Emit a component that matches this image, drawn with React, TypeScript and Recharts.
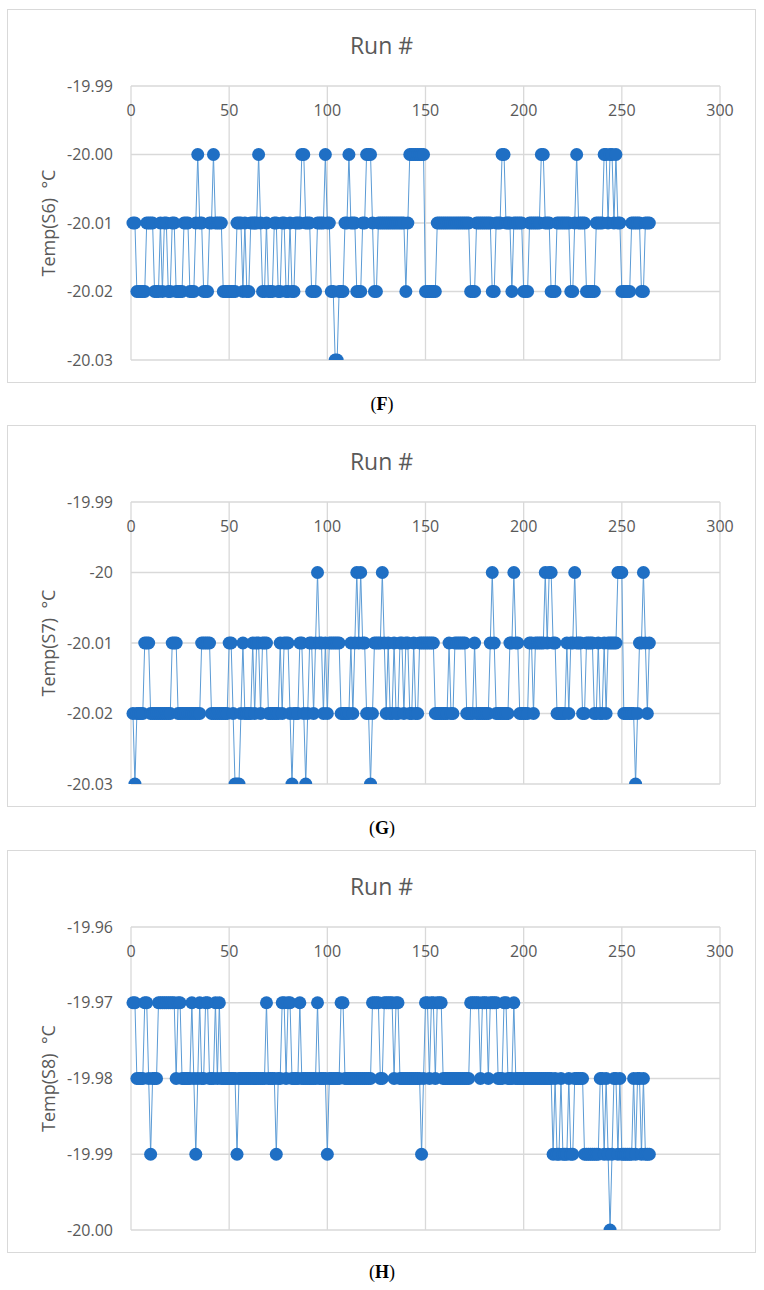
import React from "react";
import { CartesianGrid, Line, LineChart, XAxis, YAxis } from "recharts";

const PAGE_W = 764;
const PAGE_H = 1290;
const BOX_LEFT = 7;
const CHART_W = 749;
const PLOT_TOP = 77;
const X_AXIS_H = 30;
const INK = "#595959";
const GRID = "#d9d9d9";
const FONT = "'Open Sans', sans-serif";

const runTicks = [0, 50, 100, 150, 200, 250, 300];
const s6Ticks = [-20.03, -20.02, -20.01, -20.0, -19.99];
const s7Ticks = [-20.03, -20.02, -20.01, -20.0, -19.99];
const s8Ticks = [-20.0, -19.99, -19.98, -19.97, -19.96];

// runs 1..264
const s6Temps = [
  -20.01, -20.01, -20.02, -20.02, -20.02, -20.02, -20.02, -20.01, -20.01, -20.01, -20.01, -20.02,
  -20.02, -20.02, -20.01, -20.02, -20.01, -20.01, -20.02, -20.02, -20.01, -20.01, -20.02, -20.02,
  -20.02, -20.02, -20.01, -20.01, -20.01, -20.02, -20.02, -20.02, -20.01, -20.0, -20.01, -20.01,
  -20.02, -20.02, -20.02, -20.01, -20.01, -20.0, -20.01, -20.01, -20.01, -20.01, -20.02, -20.02,
  -20.02, -20.02, -20.02, -20.02, -20.02, -20.01, -20.01, -20.01, -20.02, -20.01, -20.02, -20.02,
  -20.01, -20.01, -20.01, -20.01, -20.0, -20.01, -20.02, -20.02, -20.01, -20.02, -20.02, -20.02,
  -20.01, -20.01, -20.02, -20.02, -20.01, -20.01, -20.02, -20.02, -20.01, -20.02, -20.02, -20.01,
  -20.01, -20.01, -20.0, -20.0, -20.01, -20.01, -20.01, -20.02, -20.02, -20.02, -20.01, -20.01,
  -20.01, -20.01, -20.0, -20.01, -20.01, -20.02, -20.02, -20.03, -20.03, -20.02, -20.02, -20.02,
  -20.01, -20.01, -20.0, -20.01, -20.01, -20.01, -20.02, -20.02, -20.02, -20.01, -20.01, -20.0,
  -20.0, -20.0, -20.01, -20.02, -20.02, -20.01, -20.01, -20.01, -20.01, -20.01, -20.01, -20.01,
  -20.01, -20.01, -20.01, -20.01, -20.01, -20.01, -20.01, -20.02, -20.01, -20.0, -20.0, -20.0,
  -20.0, -20.0, -20.0, -20.0, -20.0, -20.02, -20.02, -20.02, -20.02, -20.02, -20.02, -20.01,
  -20.01, -20.01, -20.01, -20.01, -20.01, -20.01, -20.01, -20.01, -20.01, -20.01, -20.01, -20.01,
  -20.01, -20.01, -20.01, -20.01, -20.02, -20.02, -20.02, -20.01, -20.01, -20.01, -20.01, -20.01,
  -20.01, -20.01, -20.01, -20.02, -20.02, -20.01, -20.01, -20.01, -20.0, -20.0, -20.01, -20.01,
  -20.01, -20.02, -20.01, -20.01, -20.01, -20.01, -20.01, -20.02, -20.02, -20.02, -20.01, -20.01,
  -20.01, -20.01, -20.01, -20.01, -20.0, -20.0, -20.01, -20.01, -20.01, -20.02, -20.02, -20.02,
  -20.01, -20.01, -20.01, -20.01, -20.01, -20.01, -20.01, -20.02, -20.02, -20.01, -20.0, -20.01,
  -20.01, -20.01, -20.01, -20.02, -20.02, -20.02, -20.02, -20.02, -20.01, -20.01, -20.01, -20.01,
  -20.0, -20.0, -20.01, -20.0, -20.0, -20.01, -20.0, -20.01, -20.01, -20.02, -20.02, -20.02,
  -20.02, -20.02, -20.01, -20.01, -20.01, -20.01, -20.01, -20.02, -20.02, -20.01, -20.01, -20.01,
];

const s7Temps = [
  -20.02, -20.03, -20.02, -20.02, -20.02, -20.02, -20.01, -20.01, -20.01, -20.02, -20.02, -20.02,
  -20.02, -20.02, -20.02, -20.02, -20.02, -20.02, -20.02, -20.02, -20.01, -20.01, -20.01, -20.02,
  -20.02, -20.02, -20.02, -20.02, -20.02, -20.02, -20.02, -20.02, -20.02, -20.02, -20.02, -20.01,
  -20.01, -20.01, -20.01, -20.01, -20.02, -20.02, -20.02, -20.02, -20.02, -20.02, -20.02, -20.02,
  -20.02, -20.01, -20.01, -20.02, -20.03, -20.03, -20.03, -20.02, -20.01, -20.02, -20.02, -20.02,
  -20.02, -20.01, -20.02, -20.01, -20.01, -20.02, -20.01, -20.01, -20.01, -20.02, -20.02, -20.02,
  -20.02, -20.02, -20.02, -20.01, -20.02, -20.01, -20.01, -20.01, -20.02, -20.03, -20.02, -20.02,
  -20.02, -20.01, -20.01, -20.02, -20.03, -20.02, -20.01, -20.01, -20.02, -20.01, -20.0, -20.01,
  -20.01, -20.02, -20.01, -20.02, -20.01, -20.01, -20.01, -20.01, -20.01, -20.01, -20.02, -20.02,
  -20.02, -20.02, -20.02, -20.01, -20.02, -20.01, -20.0, -20.01, -20.0, -20.01, -20.01, -20.02,
  -20.02, -20.03, -20.02, -20.01, -20.01, -20.01, -20.01, -20.0, -20.01, -20.02, -20.01, -20.02,
  -20.02, -20.01, -20.02, -20.02, -20.01, -20.01, -20.02, -20.01, -20.01, -20.02, -20.02, -20.01,
  -20.02, -20.02, -20.01, -20.01, -20.01, -20.01, -20.01, -20.01, -20.01, -20.01, -20.02, -20.02,
  -20.02, -20.02, -20.02, -20.02, -20.02, -20.01, -20.02, -20.02, -20.01, -20.01, -20.01, -20.01,
  -20.01, -20.01, -20.02, -20.02, -20.02, -20.02, -20.01, -20.02, -20.02, -20.02, -20.02, -20.02,
  -20.02, -20.02, -20.01, -20.0, -20.01, -20.02, -20.02, -20.02, -20.02, -20.02, -20.02, -20.02,
  -20.01, -20.01, -20.0, -20.01, -20.01, -20.02, -20.02, -20.02, -20.02, -20.02, -20.01, -20.01,
  -20.02, -20.01, -20.01, -20.01, -20.01, -20.01, -20.0, -20.01, -20.0, -20.0, -20.01, -20.01,
  -20.02, -20.02, -20.02, -20.02, -20.02, -20.01, -20.02, -20.01, -20.01, -20.0, -20.01, -20.01,
  -20.01, -20.02, -20.02, -20.01, -20.01, -20.01, -20.01, -20.02, -20.02, -20.01, -20.02, -20.02,
  -20.01, -20.02, -20.01, -20.01, -20.01, -20.01, -20.01, -20.0, -20.0, -20.0, -20.02, -20.02,
  -20.02, -20.02, -20.02, -20.02, -20.03, -20.02, -20.01, -20.01, -20.0, -20.01, -20.02, -20.01,
];

const s8Temps = [
  -19.97, -19.97, -19.98, -19.98, -19.98, -19.98, -19.97, -19.97, -19.98, -19.99, -19.98, -19.98,
  -19.98, -19.97, -19.97, -19.97, -19.97, -19.97, -19.97, -19.97, -19.97, -19.97, -19.98, -19.97,
  -19.97, -19.98, -19.98, -19.98, -19.98, -19.98, -19.97, -19.98, -19.99, -19.98, -19.97, -19.98,
  -19.98, -19.97, -19.97, -19.98, -19.98, -19.98, -19.97, -19.98, -19.97, -19.98, -19.98, -19.98,
  -19.98, -19.98, -19.98, -19.98, -19.98, -19.99, -19.98, -19.98, -19.98, -19.98, -19.98, -19.98,
  -19.98, -19.98, -19.98, -19.98, -19.98, -19.98, -19.98, -19.98, -19.97, -19.98, -19.98, -19.98,
  -19.98, -19.99, -19.98, -19.98, -19.97, -19.97, -19.98, -19.97, -19.97, -19.98, -19.98, -19.98,
  -19.98, -19.97, -19.98, -19.98, -19.98, -19.98, -19.98, -19.98, -19.98, -19.98, -19.97, -19.98,
  -19.98, -19.98, -19.98, -19.99, -19.98, -19.98, -19.98, -19.98, -19.98, -19.98, -19.97, -19.97,
  -19.98, -19.98, -19.98, -19.98, -19.98, -19.98, -19.98, -19.98, -19.98, -19.98, -19.98, -19.98,
  -19.98, -19.98, -19.97, -19.97, -19.97, -19.97, -19.98, -19.98, -19.97, -19.97, -19.97, -19.97,
  -19.97, -19.98, -19.97, -19.97, -19.98, -19.98, -19.98, -19.98, -19.98, -19.98, -19.98, -19.98,
  -19.98, -19.98, -19.98, -19.99, -19.98, -19.97, -19.97, -19.98, -19.97, -19.97, -19.98, -19.97,
  -19.97, -19.97, -19.98, -19.98, -19.98, -19.98, -19.98, -19.98, -19.98, -19.98, -19.98, -19.98,
  -19.98, -19.98, -19.98, -19.98, -19.97, -19.97, -19.97, -19.97, -19.97, -19.98, -19.97, -19.97,
  -19.97, -19.98, -19.97, -19.97, -19.97, -19.97, -19.98, -19.98, -19.98, -19.97, -19.97, -19.98,
  -19.98, -19.98, -19.97, -19.98, -19.98, -19.98, -19.98, -19.98, -19.98, -19.98, -19.98, -19.98,
  -19.98, -19.98, -19.98, -19.98, -19.98, -19.98, -19.98, -19.98, -19.98, -19.98, -19.99, -19.98,
  -19.99, -19.99, -19.98, -19.99, -19.99, -19.99, -19.98, -19.99, -19.99, -19.98, -19.98, -19.98,
  -19.98, -19.98, -19.99, -19.99, -19.99, -19.99, -19.99, -19.99, -19.99, -19.99, -19.98, -19.98,
  -19.99, -19.98, -19.99, -20.0, -19.99, -19.98, -19.98, -19.99, -19.98, -19.99, -19.99, -19.99,
  -19.99, -19.99, -19.99, -19.98, -19.99, -19.98, -19.98, -19.99, -19.98, -19.99, -19.99, -19.99,
];

const fixed2 = (v: number) => v.toFixed(2);
const general = (v: number) => String(Number(v.toFixed(2)));

// Excel puts the run labels just under the top edge, inside the plot
function RunTick({ x, payload }: any) {
  return (
    <text
      x={x}
      y={PLOT_TOP + 24}
      textAnchor="middle"
      dominantBaseline="central"
      fill={INK}
      fontSize={16}
      fontFamily={FONT}
    >
      {payload.value}
    </text>
  );
}

function AxisTitle({ value, posY }: any) {
  return (
    <text
      x={41}
      y={posY}
      transform={`rotate(-90 41 ${posY})`}
      textAnchor="middle"
      dominantBaseline="central"
      fill={INK}
      fontSize={18}
      fontFamily={FONT}
    >
      {value}
    </text>
  );
}

type PanelProps = {
  top: number;
  height: number;
  temps: number[];
  ticks: number[];
  format: (v: number) => string;
  yTitle: string;
  letter: string;
  captionY: number;
};

function Panel({ top, height, temps, ticks, format, yTitle, letter, captionY }: PanelProps) {
  const data = temps.map((t, i) => ({ run: i + 1, t }));
  const bottom = 23;
  const plotH = height - PLOT_TOP - bottom;
  return (
    <>
      <div
        style={{
          position: "absolute",
          left: BOX_LEFT,
          top,
          width: CHART_W,
          height,
          boxSizing: "border-box",
          border: `1.5px solid ${GRID}`,
        }}
      />
      <div
        style={{
          position: "absolute",
          left: BOX_LEFT,
          top: top + 20,
          width: CHART_W,
          textAlign: "center",
          fontFamily: FONT,
          fontSize: 23,
          lineHeight: "32px",
          color: INK,
        }}
      >
        Run #
      </div>
      <div style={{ position: "absolute", left: BOX_LEFT, top }}>
        <LineChart
          width={CHART_W}
          height={height}
          data={data}
          margin={{ top: PLOT_TOP - X_AXIS_H, right: 36, bottom, left: 0 }}
        >
          <CartesianGrid stroke={GRID} strokeWidth={1.3} />
          <XAxis
            dataKey="run"
            type="number"
            orientation="top"
            domain={[0, 300]}
            ticks={runTicks}
            height={X_AXIS_H}
            axisLine={false}
            tickLine={false}
            interval={0}
            tick={(p: any) => <RunTick {...p} />}
          />
          <YAxis
            type="number"
            domain={[ticks[0], ticks[ticks.length - 1]]}
            ticks={ticks}
            allowDataOverflow
            width={124}
            axisLine={false}
            tickLine={false}
            tickSize={0}
            tickMargin={18}
            tickFormatter={format}
            tick={{ fill: INK, fontSize: 16, fontFamily: FONT }}
            label={<AxisTitle value={yTitle} posY={PLOT_TOP + plotH / 2} />}
          />
          <Line
            type="linear"
            dataKey="t"
            stroke="#5b9bd5"
            strokeWidth={1}
            dot={{ r: 6.5, fill: "#1f6fc4", stroke: "none" }}
            activeDot={false}
            isAnimationActive={false}
          />
        </LineChart>
      </div>
      <div
        style={{
          position: "absolute",
          left: 0,
          top: captionY - 11,
          width: PAGE_W,
          textAlign: "center",
          fontFamily: "'Liberation Serif', serif",
          fontSize: 18,
          lineHeight: "22px",
          color: "#000",
        }}
      >
        (<b>{letter}</b>)
      </div>
    </>
  );
}

export default function App() {
  return (
    <div
      style={{
        position: "absolute",
        left: 0,
        top: 0,
        width: PAGE_W,
        height: PAGE_H,
        background: "#fff",
        overflow: "hidden",
      }}
    >
      <Panel top={9} height={374} temps={s6Temps} ticks={s6Ticks} format={fixed2}
        yTitle={"Temp(S6)\u00a0\u00a0°C"} letter="F" captionY={404} />
      <Panel top={425} height={382} temps={s7Temps} ticks={s7Ticks} format={general}
        yTitle={"Temp(S7)\u00a0\u00a0°C"} letter="G" captionY={828} />
      <Panel top={850} height={403} temps={s8Temps} ticks={s8Ticks} format={fixed2}
        yTitle={"Temp(S8)\u00a0\u00a0°C"} letter="H" captionY={1272} />
    </div>
  );
}
